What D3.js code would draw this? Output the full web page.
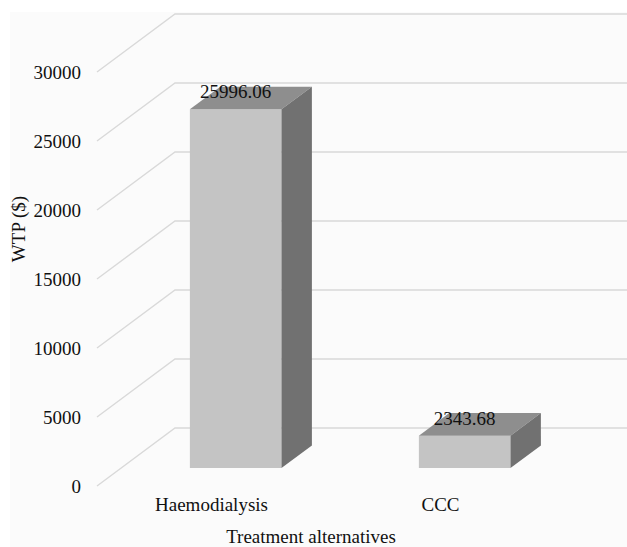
<!DOCTYPE html>
<html>
<head>
<meta charset="utf-8">
<script src="https://cdn.jsdelivr.net/npm/d3@7"></script>
<style>
    html, body { margin: 0; padding: 0; background: #ffffff; }
    svg { display: block; }
    text { font-family: "Liberation Serif", "Times New Roman", serif; fill: #111; }
</style>
</head>
<body>
<div id="chart"></div>
<script>
// data
const categories = ['Haemodialysis', 'CCC'];
const wtpValues = [25996.06, 2343.68];
const valueLabels = ['25996.06', '2343.68'];
const yTicks = [0, 5000, 10000, 15000, 20000, 25000, 30000];

const width = 627;
const height = 547;

// front plane of the floor, and the full depth offset to the back wall
const front = { left: 97, right: 555, top: 72, bottom: 486 };
const depthX = 78;
const depthY = -58;
const barDepth = [0.31, 0.70];

const svg = d3.select('#chart')
    .append('svg')
    .attr('width', width)
    .attr('height', height);

svg.append('rect')
    .attr('x', 10)
    .attr('y', 12)
    .attr('width', width - 10)
    .attr('height', height - 12)
    .attr('fill', '#fbfbfb');

const yScale = d3.scaleLinear()
    .domain([0, 30000])
    .range([front.bottom, front.top]);

const xScale = d3.scaleBand()
    .domain(categories)
    .range([front.left, front.right])
    .paddingInner(0.6)
    .paddingOuter(0.3);

// gridlines: diagonal along the floor side, then across the back wall
const grid = svg.append('g');
yTicks.forEach(t => {
    const y = yScale(t);
    grid.append('polyline')
        .attr('points', [
            [front.left, y],
            [front.left + depthX, y + depthY],
            [width, y + depthY]
        ].map(p => p.join(',')).join(' '))
        .attr('fill', 'none')
        .attr('stroke', '#d9d9d9')
        .attr('stroke-width', 1.4);
});

// y axis labels
const yAxis = d3.axisLeft(yScale)
    .tickValues(yTicks)
    .tickSize(0)
    .tickPadding(16)
    .tickFormat(d3.format('d'));

svg.append('g')
    .attr('transform', `translate(${front.left}, 0)`)
    .call(yAxis)
    .call(g => g.select('.domain').remove())
    .selectAll('text')
    .attr('font-family', '"Liberation Serif", "Times New Roman", serif')
    .attr('font-size', 19)
    .attr('fill', '#111');

// bars
const pt = (x, y, d) => [x + depthX * d, y + depthY * d];
const poly = pts => pts.map(p => p.join(',')).join(' ');

const bars = svg.append('g');
categories.forEach((c, i) => {
    const x0 = xScale(c);
    const x1 = x0 + xScale.bandwidth();
    const yb = yScale(0);
    const yt = yScale(wtpValues[i]);
    const [d0, d1] = barDepth;

    bars.append('polygon')
        .attr('points', poly([pt(x0, yb, d0), pt(x1, yb, d0), pt(x1, yt, d0), pt(x0, yt, d0)]))
        .attr('fill', '#c4c4c4');

    bars.append('polygon')
        .attr('points', poly([pt(x0, yt, d0), pt(x1, yt, d0), pt(x1, yt, d1), pt(x0, yt, d1)]))
        .attr('fill', '#8e8e8e');

    bars.append('polygon')
        .attr('points', poly([pt(x1, yb, d0), pt(x1, yb, d1), pt(x1, yt, d1), pt(x1, yt, d0)]))
        .attr('fill', '#717171');

    const [lx, ly] = pt((x0 + x1) / 2, yt, d0);
    bars.append('text')
        .attr('x', lx)
        .attr('y', ly - 11)
        .attr('text-anchor', 'middle')
        .attr('font-size', 19)
        .text(valueLabels[i]);
});

// category labels
const xAxis = d3.axisBottom(xScale)
    .tickSize(0)
    .tickPadding(12);

svg.append('g')
    .attr('transform', `translate(0, ${front.bottom})`)
    .call(xAxis)
    .call(g => g.select('.domain').remove())
    .selectAll('text')
    .attr('font-family', '"Liberation Serif", "Times New Roman", serif')
    .attr('font-size', 19)
    .attr('fill', '#111');

// axis titles
svg.append('text')
    .attr('x', 311)
    .attr('y', 543)
    .attr('text-anchor', 'middle')
    .attr('font-size', 19)
    .text('Treatment alternatives');

svg.append('text')
    .attr('transform', 'translate(25, 229) rotate(-90)')
    .attr('text-anchor', 'middle')
    .attr('font-size', 19)
    .text('WTP ($)');
</script>
</body>
</html>
